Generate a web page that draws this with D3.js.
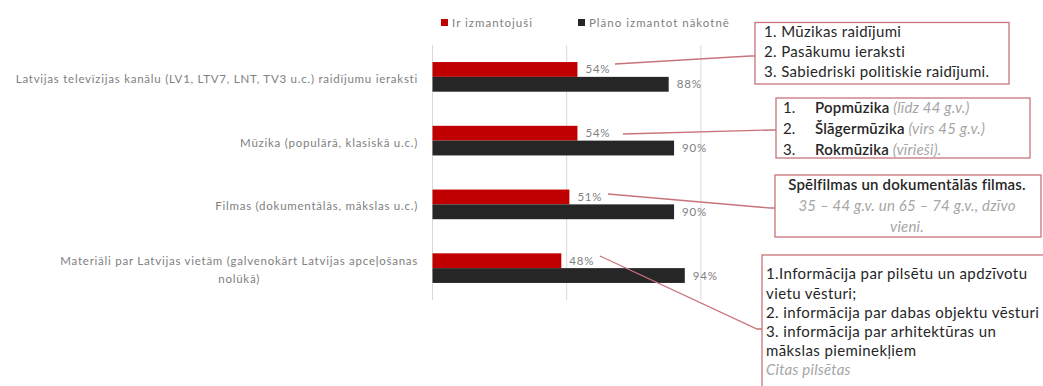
<!DOCTYPE html>
<html><head><meta charset="utf-8">
<script src="https://cdn.jsdelivr.net/npm/d3@7/dist/d3.min.js"></script>
<style>body{margin:0;background:#fff;}svg{display:block;font-family:Lato,"Open Sans",sans-serif;}</style>
</head><body><svg id="c" width="1043" height="386"></svg>
<script>
const categories = [
  ["Latvijas televīzijas kanālu (LV1, LTV7, LNT, TV3 u.c.) raidījumu ieraksti"],
  ["Mūzika (populārā, klasiskā u.c.)"],
  ["Filmas (dokumentālās, mākslas u.c.)"],
  ["Materiāli par Latvijas vietām (galvenokārt Latvijas apceļošanas", "nolūkā)"]
];
const seriesNames = ["Ir izmantojuši", "Plāno izmantot nākotnē"];
const used = [54, 54, 51, 48];
const planned = [88, 90, 90, 94];
const gridTicks = [0, 50, 100];
const colors = ["#C00000", "#262626"];

const svg = d3.select("#c");
const x = d3.scaleLinear().domain([0, 100]).range([432.5, 700.9]);
const y = d3.scaleBand().domain(d3.range(categories.length)).range([45, 300]).paddingInner(0.535).paddingOuter(0.2675);
const sub = d3.scaleBand().domain([0, 1]).range([0, y.bandwidth()]);
const gray = "#808080";

svg.append("g").selectAll("line").data(gridTicks).join("line")
  .attr("x1", d => x(d)).attr("x2", d => x(d))
  .attr("y1", 45).attr("y2", 300)
  .attr("stroke", "#d9d9d9").attr("stroke-width", 1);

const series = [used, planned];
series.forEach((vals, s) => {
  const g = svg.append("g");
  g.selectAll("rect").data(vals).join("rect")
    .attr("x", x(0)).attr("y", (d, i) => y(i) + sub(s))
    .attr("width", d => x(d) - x(0)).attr("height", sub.bandwidth())
    .attr("fill", colors[s]);
  g.selectAll("text").data(vals).join("text")
    .attr("x", d => x(d) + 8).attr("y", (d, i) => y(i) + sub(s) + sub.bandwidth() / 2)
    .attr("dy", "0.35em").attr("font-size", 11.5).attr("letter-spacing", 0.8).attr("fill", gray)
    .text(d => d + "%");
});

categories.forEach((lines, i) => {
  const cy = y(i) + y.bandwidth() / 2;
  const lh = 18;
  const t0 = svg.append("text").attr("x", 418).attr("text-anchor", "end")
    .attr("y", cy - (lines.length - 1) * lh / 2 + 2).attr("dy", "0.35em")
    .attr("font-size", 11.5).attr("letter-spacing", 0.75).attr("fill", gray).text(lines[0]);
  if (lines.length > 1) {
    const w = t0.node().getComputedTextLength();
    for (let k = 1; k < lines.length; k++) {
      svg.append("text").attr("x", 418 - w / 2).attr("text-anchor", "middle")
        .attr("y", cy - (lines.length - 1) * lh / 2 + 2 + k * lh).attr("dy", "0.35em")
        .attr("font-size", 11.5).attr("letter-spacing", 0.75).attr("fill", gray).text(lines[k]);
    }
  }
});

const legX = [441, 578];
seriesNames.forEach((n, i) => {
  svg.append("rect").attr("x", legX[i]).attr("y", 19).attr("width", 7).attr("height", 7).attr("fill", colors[i]);
  svg.append("text").attr("x", legX[i] + 11).attr("y", 22.5).attr("dy", "0.35em")
    .attr("font-size", 11.5).attr("letter-spacing", 1.0).attr("fill", gray).text(n);
});

const bc = "#c8737a";
function box(x0, y0, x1, y1) {
  svg.append("rect").attr("x", x0).attr("y", y0).attr("width", x1 - x0).attr("height", y1 - y0)
    .attr("fill", "#fff").attr("stroke", bc).attr("stroke-width", 1.3);
}
function leader(pts) {
  svg.append("path").attr("d", d3.line()(pts)).attr("fill", "none").attr("stroke", bc).attr("stroke-width", 1.3);
}
leader([[615, 64], [750, 56], [755, 56]]);
leader([[623, 134], [772, 130], [776, 130]]);
leader([[608, 194], [770, 208], [775, 208]]);
leader([[600, 256], [757, 329], [762, 329]]);

const fs = 15, ls = 0.2;
box(755, 22.5, 1009, 84);
[["1. Mūzikas raidījumi", 32], ["2. Pasākumu ieraksti", 52], ["3. Sabiedriski politiskie raidījumi.", 72]].forEach(([t, yy]) => {
  svg.append("text").attr("x", 764).attr("y", yy).attr("dy", "0.35em").attr("font-size", fs).attr("letter-spacing", 0.35).attr("fill", "#262626").text(t);
});

box(776, 98, 1030, 158);
[["1.", "Popmūzika", " (līdz 44 g.v.)", 107.5], ["2.", "Šlāgermūzika", " (virs 45 g.v.)", 128.5], ["3.", "Rokmūzika", " (vīrieši).", 149.5]].forEach(([n, b, it, yy]) => {
  svg.append("text").attr("x", 783).attr("y", yy).attr("dy", "0.35em").attr("font-size", fs).attr("fill", "#262626").text(n);
  const t = svg.append("text").attr("x", 815).attr("y", yy).attr("dy", "0.35em").attr("font-size", fs).attr("letter-spacing", ls);
  t.append("tspan").attr("fill", "#262626").attr("font-weight", 600).text(b);
  t.append("tspan").attr("fill", "#a6a6a6").attr("font-style", "italic").text(it);
});

box(775, 175, 1041, 237);
svg.append("text").attr("x", 907).attr("y", 185).attr("dy", "0.35em").attr("text-anchor", "middle")
  .attr("font-size", fs).attr("letter-spacing", ls).attr("font-weight", 600).attr("fill", "#262626").text("Spēlfilmas un dokumentālās filmas.");
[["35 – 44 g.v. un 65 – 74 g.v., dzīvo", 206], ["vieni.", 227]].forEach(([t, yy]) => {
  svg.append("text").attr("x", 907).attr("y", yy).attr("dy", "0.35em").attr("text-anchor", "middle")
    .attr("font-size", fs).attr("letter-spacing", ls).attr("font-style", "italic").attr("fill", "#a6a6a6").text(t);
});

box(762, 255, 1050, 400);
[["1.Informācija par pilsētu un apdzīvotu", 274], ["vietu vēsturi;", 293.5], ["2. informācija par dabas objektu vēsturi", 313],
 ["3. informācija par arhitektūras un", 332], ["mākslas pieminekļiem", 351]].forEach(([t, yy]) => {
  svg.append("text").attr("x", 766).attr("y", yy).attr("dy", "0.35em").attr("font-size", fs).attr("letter-spacing", ls + 0.2).attr("fill", "#262626").text(t);
});
svg.append("text").attr("x", 766).attr("y", 370).attr("dy", "0.35em").attr("font-size", fs)
  .attr("letter-spacing", ls).attr("font-style", "italic").attr("fill", "#a6a6a6").text("Citas pilsētas");
</script></body></html>
